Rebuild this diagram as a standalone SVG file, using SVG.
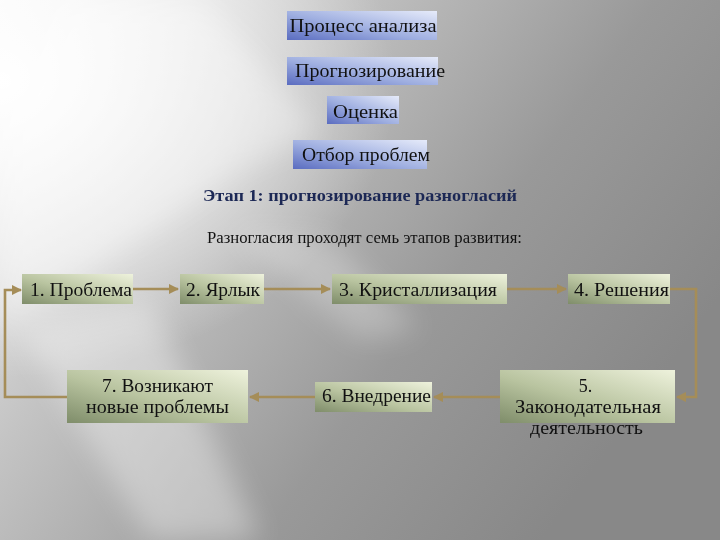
<svg xmlns="http://www.w3.org/2000/svg" width="720" height="540" viewBox="0 0 720 540">
<defs>
<linearGradient id="bg" x1="0" y1="0" x2="1" y2="0.55">
<stop offset="0" stop-color="#f4f4f4"/>
<stop offset="0.35" stop-color="#c4c4c4"/>
<stop offset="0.7" stop-color="#999999"/>
<stop offset="1" stop-color="#888888"/>
</linearGradient>
<radialGradient id="glow" cx="0" cy="0.15" r="0.55">
<stop offset="0" stop-color="#ffffff" stop-opacity="1"/>
<stop offset="0.6" stop-color="#ffffff" stop-opacity="0.5"/>
<stop offset="1" stop-color="#ffffff" stop-opacity="0"/>
</radialGradient>
<filter id="blur" x="-20%" y="-20%" width="140%" height="140%"><feGaussianBlur stdDeviation="14"/></filter>
<linearGradient id="blue" x1="0" y1="1" x2="1" y2="0">
<stop offset="0" stop-color="#5a6cc0"/>
<stop offset="0.45" stop-color="#9eaee0"/>
<stop offset="1" stop-color="#e6ebfa"/>
</linearGradient>
<linearGradient id="green" x1="0" y1="1" x2="1" y2="0">
<stop offset="0" stop-color="#7f8d6a"/>
<stop offset="0.45" stop-color="#b9c4a0"/>
<stop offset="1" stop-color="#eef2dc"/>
</linearGradient>
<marker id="arr" viewBox="0 0 10 10" refX="9" refY="5" markerWidth="4" markerHeight="4" orient="auto">
<path d="M0,0 L10,5 L0,10 z" fill="#a58d58"/>
</marker>
<style>
.bb{fill:url(#blue);}
.gb{fill:url(#green);}
.t{font-family:"Liberation Serif","DejaVu Serif",serif;font-size:18px;fill:#111;text-anchor:middle;}
.c{fill:none;stroke:#a58d58;stroke-width:2.6;}
</style>
</defs>
<rect width="720" height="540" fill="url(#bg)"/>
<rect width="720" height="540" fill="url(#glow)"/>
<g filter="url(#blur)" fill="#ffffff">
<polygon points="0,120 60,0 200,0 320,130 240,170 0,330" opacity="0.35"/>
<polygon points="20,330 150,300 260,540 150,540" opacity="0.35"/>
<polygon points="230,230 330,240 420,330 360,340" opacity="0.25"/>
</g>
<g id="connectors">
<path class="c" d="M133,289 H178" marker-end="url(#arr)"/>
<path class="c" d="M264,289 H330" marker-end="url(#arr)"/>
<path class="c" d="M507,289 H566" marker-end="url(#arr)"/>
<path class="c" d="M670,289 H696 V397 H677" marker-end="url(#arr)"/>
<path class="c" d="M500,397 H434" marker-end="url(#arr)"/>
<path class="c" d="M315,397 H250" marker-end="url(#arr)"/>
<path class="c" d="M67,397 H5 V290 H21" marker-end="url(#arr)"/>
</g>
<g id="n-process"><rect class="bb" x="287" y="11" width="150" height="29"/><text class="t" x="363" y="32" textLength="147" lengthAdjust="spacingAndGlyphs">Процесс анализа</text></g>
<g id="n-forecast"><rect class="bb" x="287" y="57" width="151" height="28"/><text class="t" x="370" y="77" textLength="150" lengthAdjust="spacingAndGlyphs">Прогнозирование</text></g>
<g id="n-eval"><rect class="bb" x="327" y="96" width="72" height="28"/><text class="t" x="365.5" y="118" textLength="65" lengthAdjust="spacingAndGlyphs">Оценка</text></g>
<g id="n-select"><rect class="bb" x="293" y="140" width="134" height="29"/><text class="t" x="366" y="161" textLength="128" lengthAdjust="spacingAndGlyphs">Отбор проблем</text></g>
<g id="title"><text x="360" y="201" style="font-family:'Liberation Serif','DejaVu Serif',serif;font-size:16px;font-weight:bold;fill:#1c2855;text-anchor:middle" textLength="314" lengthAdjust="spacingAndGlyphs">Этап 1: прогнозирование разногласий</text></g>
<g id="subtitle"><text class="t" x="364.5" y="243" style="font-size:16px" textLength="315" lengthAdjust="spacingAndGlyphs">Разногласия проходят семь этапов развития:</text></g>
<g id="n1"><rect class="gb" x="22" y="274" width="111" height="30"/><text class="t" x="81" y="296" textLength="102" lengthAdjust="spacingAndGlyphs">1. Проблема</text></g>
<g id="n2"><rect class="gb" x="180" y="274" width="84" height="30"/><text class="t" x="223" y="296" textLength="74" lengthAdjust="spacingAndGlyphs">2. Ярлык</text></g>
<g id="n3"><rect class="gb" x="332" y="274" width="175" height="30"/><text class="t" x="418" y="296" textLength="158" lengthAdjust="spacingAndGlyphs">3. Кристаллизация</text></g>
<g id="n4"><rect class="gb" x="568" y="274" width="102" height="30"/><text class="t" x="621.5" y="296" textLength="95" lengthAdjust="spacingAndGlyphs">4. Решения</text></g>
<g id="n5"><rect class="gb" x="500" y="370" width="175" height="53"/><text class="t" x="585.5" y="392">5.</text><text class="t" x="588" y="413" textLength="146" lengthAdjust="spacingAndGlyphs">Законодательная</text><text class="t" x="586.5" y="434" textLength="113" lengthAdjust="spacingAndGlyphs">деятельность</text></g>
<g id="n6"><rect class="gb" x="315" y="382" width="117" height="30"/><text class="t" x="376.5" y="402" textLength="109" lengthAdjust="spacingAndGlyphs">6. Внедрение</text></g>
<g id="n7"><rect class="gb" x="67" y="370" width="181" height="53"/><text class="t" x="157.5" y="392" textLength="111" lengthAdjust="spacingAndGlyphs">7. Возникают</text><text class="t" x="157.5" y="413" textLength="143" lengthAdjust="spacingAndGlyphs">новые проблемы</text></g>
</svg>
